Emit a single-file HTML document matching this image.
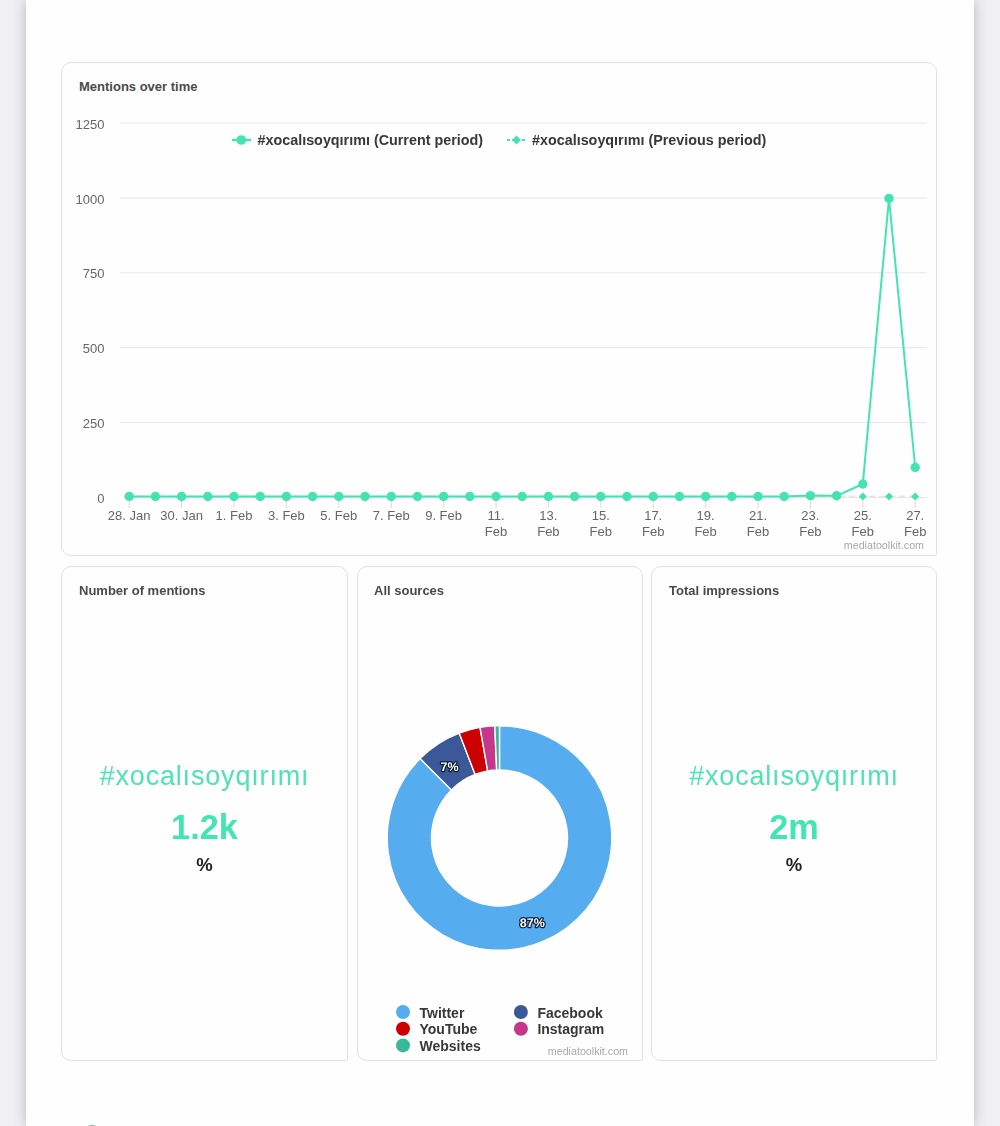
<!DOCTYPE html>
<html><head><meta charset="utf-8">
<style>
html,body{margin:0;padding:0;}
body{width:1000px;height:1126px;overflow:hidden;background:#f0f0f4;position:relative;font-family:"Liberation Sans",sans-serif;}
.page{position:absolute;left:26px;top:0;width:948px;height:1126px;background:#fefefe;box-shadow:0 0 12px rgba(0,0,0,0.24);}
.card{position:absolute;box-sizing:border-box;border:1px solid #e2e2e2;border-radius:10px 10px 2px 10px;background:#fefefe;}
.title{position:absolute;left:17px;font-weight:bold;font-size:13px;color:#4a4a4a;white-space:nowrap;}
.big{position:absolute;left:0;right:0;text-align:center;white-space:nowrap;}
.tag{font-size:27px;letter-spacing:0.82px;color:#4fe3b4;}
.num{font-size:34.3px;font-weight:bold;color:#42e6b2;}
.pct{font-size:18.5px;font-weight:bold;color:#222;}
svg{position:absolute;left:0;top:0;}
.ax{font-size:13px;fill:#666;}
.lg{font-size:14.35px;font-weight:bold;fill:#383838;}
.cr{font-size:10.7px;fill:#aaa;}
.dl{font-size:12.5px;font-weight:bold;fill:#fff;stroke:#0a1a30;stroke-width:2.4px;text-rendering:geometricPrecision;paint-order:stroke;stroke-linejoin:round;}
.pl{font-size:14px;font-weight:bold;fill:#383838;}
</style></head><body>
<div id="wrap" style="position:absolute;left:0;top:0;width:1000px;height:1126px;filter:blur(0.4px)">
<div class="page"></div>
<div class="card" style="left:61px;top:62px;width:876px;height:494px;"><div class="title" style="top:16px">Mentions over time</div></div>
<div class="card" style="left:61px;top:566px;width:287px;height:495px;">
 <div class="title" style="top:16px">Number of mentions</div>
 <div class="big tag" style="top:194px">#xocalısoyqırımı</div>
 <div class="big num" style="top:240.5px">1.2k</div>
 <div class="big pct" style="top:287px">%</div>
</div>
<div class="card" style="left:357px;top:566px;width:286px;height:495px;"><div class="title" style="top:16px;left:16px">All sources</div></div>
<div class="card" style="left:651px;top:566px;width:286px;height:495px;">
 <div class="title" style="top:16px">Total impressions</div>
 <div class="big tag" style="top:194px">#xocalısoyqırımı</div>
 <div class="big num" style="top:240.5px">2m</div>
 <div class="big pct" style="top:287px">%</div>
</div>
<svg width="1000" height="1126" viewBox="0 0 1000 1126">
<line x1="120" y1="123.2" x2="926.5" y2="123.2" stroke="#e6e6e6" stroke-width="1"/>
<line x1="120" y1="198.0" x2="926.5" y2="198.0" stroke="#e6e6e6" stroke-width="1"/>
<line x1="120" y1="272.8" x2="926.5" y2="272.8" stroke="#e6e6e6" stroke-width="1"/>
<line x1="120" y1="347.7" x2="926.5" y2="347.7" stroke="#e6e6e6" stroke-width="1"/>
<line x1="120" y1="422.6" x2="926.5" y2="422.6" stroke="#e6e6e6" stroke-width="1"/>
<line x1="124" y1="497.5" x2="926.5" y2="497.5" stroke="#e6e6e6" stroke-width="1"/>
<text x="104.5" y="128.8" text-anchor="end" class="ax">1250</text>
<text x="104.5" y="203.6" text-anchor="end" class="ax">1000</text>
<text x="104.5" y="278.40000000000003" text-anchor="end" class="ax">750</text>
<text x="104.5" y="353.3" text-anchor="end" class="ax">500</text>
<text x="104.5" y="428.20000000000005" text-anchor="end" class="ax">250</text>
<text x="104.5" y="503.1" text-anchor="end" class="ax">0</text>
<line x1="129.2" y1="497.5" x2="129.2" y2="508" stroke="#e0d8dc" stroke-width="1"/>
<line x1="181.6" y1="497.5" x2="181.6" y2="508" stroke="#e0d8dc" stroke-width="1"/>
<line x1="234.0" y1="497.5" x2="234.0" y2="508" stroke="#e0d8dc" stroke-width="1"/>
<line x1="286.4" y1="497.5" x2="286.4" y2="508" stroke="#e0d8dc" stroke-width="1"/>
<line x1="338.8" y1="497.5" x2="338.8" y2="508" stroke="#e0d8dc" stroke-width="1"/>
<line x1="391.2" y1="497.5" x2="391.2" y2="508" stroke="#e0d8dc" stroke-width="1"/>
<line x1="443.6" y1="497.5" x2="443.6" y2="508" stroke="#e0d8dc" stroke-width="1"/>
<line x1="496.0" y1="497.5" x2="496.0" y2="508" stroke="#e0d8dc" stroke-width="1"/>
<line x1="548.4" y1="497.5" x2="548.4" y2="508" stroke="#e0d8dc" stroke-width="1"/>
<line x1="600.8" y1="497.5" x2="600.8" y2="508" stroke="#e0d8dc" stroke-width="1"/>
<line x1="653.2" y1="497.5" x2="653.2" y2="508" stroke="#e0d8dc" stroke-width="1"/>
<line x1="705.6" y1="497.5" x2="705.6" y2="508" stroke="#e0d8dc" stroke-width="1"/>
<line x1="758.0" y1="497.5" x2="758.0" y2="508" stroke="#e0d8dc" stroke-width="1"/>
<line x1="810.4" y1="497.5" x2="810.4" y2="508" stroke="#e0d8dc" stroke-width="1"/>
<line x1="862.8" y1="497.5" x2="862.8" y2="508" stroke="#e0d8dc" stroke-width="1"/>
<line x1="915.2" y1="497.5" x2="915.2" y2="508" stroke="#e0d8dc" stroke-width="1"/>
<text x="129.2" y="519.5" text-anchor="middle" class="ax">28. Jan</text>
<text x="181.6" y="519.5" text-anchor="middle" class="ax">30. Jan</text>
<text x="234.0" y="519.5" text-anchor="middle" class="ax">1. Feb</text>
<text x="286.4" y="519.5" text-anchor="middle" class="ax">3. Feb</text>
<text x="338.8" y="519.5" text-anchor="middle" class="ax">5. Feb</text>
<text x="391.2" y="519.5" text-anchor="middle" class="ax">7. Feb</text>
<text x="443.6" y="519.5" text-anchor="middle" class="ax">9. Feb</text>
<text x="496.0" y="519.5" text-anchor="middle" class="ax">11.</text>
<text x="496.0" y="535.5" text-anchor="middle" class="ax">Feb</text>
<text x="548.4" y="519.5" text-anchor="middle" class="ax">13.</text>
<text x="548.4" y="535.5" text-anchor="middle" class="ax">Feb</text>
<text x="600.8" y="519.5" text-anchor="middle" class="ax">15.</text>
<text x="600.8" y="535.5" text-anchor="middle" class="ax">Feb</text>
<text x="653.2" y="519.5" text-anchor="middle" class="ax">17.</text>
<text x="653.2" y="535.5" text-anchor="middle" class="ax">Feb</text>
<text x="705.6" y="519.5" text-anchor="middle" class="ax">19.</text>
<text x="705.6" y="535.5" text-anchor="middle" class="ax">Feb</text>
<text x="758.0" y="519.5" text-anchor="middle" class="ax">21.</text>
<text x="758.0" y="535.5" text-anchor="middle" class="ax">Feb</text>
<text x="810.4" y="519.5" text-anchor="middle" class="ax">23.</text>
<text x="810.4" y="535.5" text-anchor="middle" class="ax">Feb</text>
<text x="862.8" y="519.5" text-anchor="middle" class="ax">25.</text>
<text x="862.8" y="535.5" text-anchor="middle" class="ax">Feb</text>
<text x="915.2" y="519.5" text-anchor="middle" class="ax">27.</text>
<text x="915.2" y="535.5" text-anchor="middle" class="ax">Feb</text>
<line x1="129.2" y1="496.6" x2="915.2" y2="496.6" stroke="#dfe6e3" stroke-width="1.5" stroke-dasharray="6,4"/>
<path d="M129.2 492.6 L133.2 496.6 L129.2 500.6 L125.2 496.6Z" fill="#44e3b1"/>
<path d="M155.4 492.6 L159.4 496.6 L155.4 500.6 L151.4 496.6Z" fill="#44e3b1"/>
<path d="M181.6 492.6 L185.6 496.6 L181.6 500.6 L177.6 496.6Z" fill="#44e3b1"/>
<path d="M207.8 492.6 L211.8 496.6 L207.8 500.6 L203.8 496.6Z" fill="#44e3b1"/>
<path d="M234.0 492.6 L238.0 496.6 L234.0 500.6 L230.0 496.6Z" fill="#44e3b1"/>
<path d="M260.2 492.6 L264.2 496.6 L260.2 500.6 L256.2 496.6Z" fill="#44e3b1"/>
<path d="M286.4 492.6 L290.4 496.6 L286.4 500.6 L282.4 496.6Z" fill="#44e3b1"/>
<path d="M312.6 492.6 L316.6 496.6 L312.6 500.6 L308.6 496.6Z" fill="#44e3b1"/>
<path d="M338.8 492.6 L342.8 496.6 L338.8 500.6 L334.8 496.6Z" fill="#44e3b1"/>
<path d="M365.0 492.6 L369.0 496.6 L365.0 500.6 L361.0 496.6Z" fill="#44e3b1"/>
<path d="M391.2 492.6 L395.2 496.6 L391.2 500.6 L387.2 496.6Z" fill="#44e3b1"/>
<path d="M417.4 492.6 L421.4 496.6 L417.4 500.6 L413.4 496.6Z" fill="#44e3b1"/>
<path d="M443.6 492.6 L447.6 496.6 L443.6 500.6 L439.6 496.6Z" fill="#44e3b1"/>
<path d="M469.8 492.6 L473.8 496.6 L469.8 500.6 L465.8 496.6Z" fill="#44e3b1"/>
<path d="M496.0 492.6 L500.0 496.6 L496.0 500.6 L492.0 496.6Z" fill="#44e3b1"/>
<path d="M522.2 492.6 L526.2 496.6 L522.2 500.6 L518.2 496.6Z" fill="#44e3b1"/>
<path d="M548.4 492.6 L552.4 496.6 L548.4 500.6 L544.4 496.6Z" fill="#44e3b1"/>
<path d="M574.6 492.6 L578.6 496.6 L574.6 500.6 L570.6 496.6Z" fill="#44e3b1"/>
<path d="M600.8 492.6 L604.8 496.6 L600.8 500.6 L596.8 496.6Z" fill="#44e3b1"/>
<path d="M627.0 492.6 L631.0 496.6 L627.0 500.6 L623.0 496.6Z" fill="#44e3b1"/>
<path d="M653.2 492.6 L657.2 496.6 L653.2 500.6 L649.2 496.6Z" fill="#44e3b1"/>
<path d="M679.4 492.6 L683.4 496.6 L679.4 500.6 L675.4 496.6Z" fill="#44e3b1"/>
<path d="M705.6 492.6 L709.6 496.6 L705.6 500.6 L701.6 496.6Z" fill="#44e3b1"/>
<path d="M731.8 492.6 L735.8 496.6 L731.8 500.6 L727.8 496.6Z" fill="#44e3b1"/>
<path d="M758.0 492.6 L762.0 496.6 L758.0 500.6 L754.0 496.6Z" fill="#44e3b1"/>
<path d="M784.2 492.6 L788.2 496.6 L784.2 500.6 L780.2 496.6Z" fill="#44e3b1"/>
<path d="M810.4 492.6 L814.4 496.6 L810.4 500.6 L806.4 496.6Z" fill="#44e3b1"/>
<path d="M836.6 492.6 L840.6 496.6 L836.6 500.6 L832.6 496.6Z" fill="#44e3b1"/>
<path d="M862.8 492.6 L866.8 496.6 L862.8 500.6 L858.8 496.6Z" fill="#44e3b1"/>
<path d="M889.0 492.6 L893.0 496.6 L889.0 500.6 L885.0 496.6Z" fill="#44e3b1"/>
<path d="M915.2 492.6 L919.2 496.6 L915.2 500.6 L911.2 496.6Z" fill="#44e3b1"/>
<polyline points="129.2,496.5 155.4,496.5 181.6,496.5 207.8,496.5 234.0,496.5 260.2,496.5 286.4,496.5 312.6,496.5 338.8,496.5 365.0,496.5 391.2,496.5 417.4,496.5 443.6,496.5 469.8,496.5 496.0,496.5 522.2,496.5 548.4,496.5 574.6,496.5 600.8,496.5 627.0,496.5 653.2,496.5 679.4,496.5 705.6,496.5 731.8,496.5 758.0,496.5 784.2,496.5 810.4,495.6 836.6,495.8 862.8,484 889.0,198.4 915.2,467.5" fill="none" stroke="#44e3b1" stroke-width="2" stroke-linejoin="round"/>
<circle cx="129.2" cy="496.5" r="4.7" fill="#44e3b1"/>
<circle cx="155.4" cy="496.5" r="4.7" fill="#44e3b1"/>
<circle cx="181.6" cy="496.5" r="4.7" fill="#44e3b1"/>
<circle cx="207.8" cy="496.5" r="4.7" fill="#44e3b1"/>
<circle cx="234.0" cy="496.5" r="4.7" fill="#44e3b1"/>
<circle cx="260.2" cy="496.5" r="4.7" fill="#44e3b1"/>
<circle cx="286.4" cy="496.5" r="4.7" fill="#44e3b1"/>
<circle cx="312.6" cy="496.5" r="4.7" fill="#44e3b1"/>
<circle cx="338.8" cy="496.5" r="4.7" fill="#44e3b1"/>
<circle cx="365.0" cy="496.5" r="4.7" fill="#44e3b1"/>
<circle cx="391.2" cy="496.5" r="4.7" fill="#44e3b1"/>
<circle cx="417.4" cy="496.5" r="4.7" fill="#44e3b1"/>
<circle cx="443.6" cy="496.5" r="4.7" fill="#44e3b1"/>
<circle cx="469.8" cy="496.5" r="4.7" fill="#44e3b1"/>
<circle cx="496.0" cy="496.5" r="4.7" fill="#44e3b1"/>
<circle cx="522.2" cy="496.5" r="4.7" fill="#44e3b1"/>
<circle cx="548.4" cy="496.5" r="4.7" fill="#44e3b1"/>
<circle cx="574.6" cy="496.5" r="4.7" fill="#44e3b1"/>
<circle cx="600.8" cy="496.5" r="4.7" fill="#44e3b1"/>
<circle cx="627.0" cy="496.5" r="4.7" fill="#44e3b1"/>
<circle cx="653.2" cy="496.5" r="4.7" fill="#44e3b1"/>
<circle cx="679.4" cy="496.5" r="4.7" fill="#44e3b1"/>
<circle cx="705.6" cy="496.5" r="4.7" fill="#44e3b1"/>
<circle cx="731.8" cy="496.5" r="4.7" fill="#44e3b1"/>
<circle cx="758.0" cy="496.5" r="4.7" fill="#44e3b1"/>
<circle cx="784.2" cy="496.5" r="4.7" fill="#44e3b1"/>
<circle cx="810.4" cy="495.6" r="4.7" fill="#44e3b1"/>
<circle cx="836.6" cy="495.8" r="4.7" fill="#44e3b1"/>
<circle cx="862.8" cy="484" r="4.7" fill="#44e3b1"/>
<circle cx="889.0" cy="198.4" r="4.7" fill="#44e3b1"/>
<circle cx="915.2" cy="467.5" r="4.7" fill="#44e3b1"/>
<line x1="232" y1="140" x2="251" y2="140" stroke="#44e3b1" stroke-width="2.5"/>
<circle cx="241.3" cy="140" r="4.8" fill="#44e3b1"/>
<text x="257.5" y="145" class="lg">#xocalısoyqırımı (Current period)</text>
<line x1="507" y1="140" x2="526" y2="140" stroke="#44e3b1" stroke-width="2" stroke-dasharray="3,2"/>
<path d="M516.5 135.5 L521 140 L516.5 144.5 L512 140Z" fill="#44e3b1"/>
<text x="532" y="145" class="lg">#xocalısoyqırımı (Previous period)</text>
<text x="924" y="549" text-anchor="end" class="cr">mediatoolkit.com</text>
<path d="M499.50 725.70 A112.3 112.3 0 1 1 420.09 758.59 L451.42 789.92 A68 68 0 1 0 499.50 770.00Z" fill="#55acee" stroke="#fff" stroke-width="1.4"/>
<path d="M420.09 758.59 A112.3 112.3 0 0 1 459.26 733.16 L475.13 774.52 A68 68 0 0 0 451.42 789.92Z" fill="#3b5998" stroke="#fff" stroke-width="1.4"/>
<path d="M459.26 733.16 A112.3 112.3 0 0 1 480.00 727.41 L487.69 771.03 A68 68 0 0 0 475.13 774.52Z" fill="#cc0000" stroke="#fff" stroke-width="1.4"/>
<path d="M480.00 727.41 A112.3 112.3 0 0 1 494.80 725.80 L496.65 770.06 A68 68 0 0 0 487.69 771.03Z" fill="#c4378b" stroke="#fff" stroke-width="1.4"/>
<path d="M494.80 725.80 A112.3 112.3 0 0 1 499.50 725.70 L499.50 770.00 A68 68 0 0 0 496.65 770.06Z" fill="#3ab89b" stroke="#fff" stroke-width="1.4"/>
<text x="449.5" y="771" text-anchor="middle" class="dl">7%</text>
<text x="532.3" y="926.5" text-anchor="middle" class="dl">87%</text>
<circle cx="403" cy="1012" r="7" fill="#55acee"/>
<text x="419.5" y="1017.5" class="pl">Twitter</text>
<circle cx="520.9" cy="1012" r="7" fill="#3b5998"/>
<text x="537.4" y="1017.5" class="pl">Facebook</text>
<circle cx="403" cy="1028.7" r="7" fill="#cc0000"/>
<text x="419.5" y="1034.2" class="pl">YouTube</text>
<circle cx="520.9" cy="1028.7" r="7" fill="#c4378b"/>
<text x="537.4" y="1034.2" class="pl">Instagram</text>
<circle cx="403" cy="1045.4" r="7" fill="#3ab89b"/>
<text x="419.5" y="1050.9" class="pl">Websites</text>
<text x="628" y="1054.5" text-anchor="end" class="cr">mediatoolkit.com</text>
<circle cx="92" cy="1135" r="9" fill="none" stroke="#8fb3b0" stroke-width="2"/>
</svg>
</div>
</body></html>
